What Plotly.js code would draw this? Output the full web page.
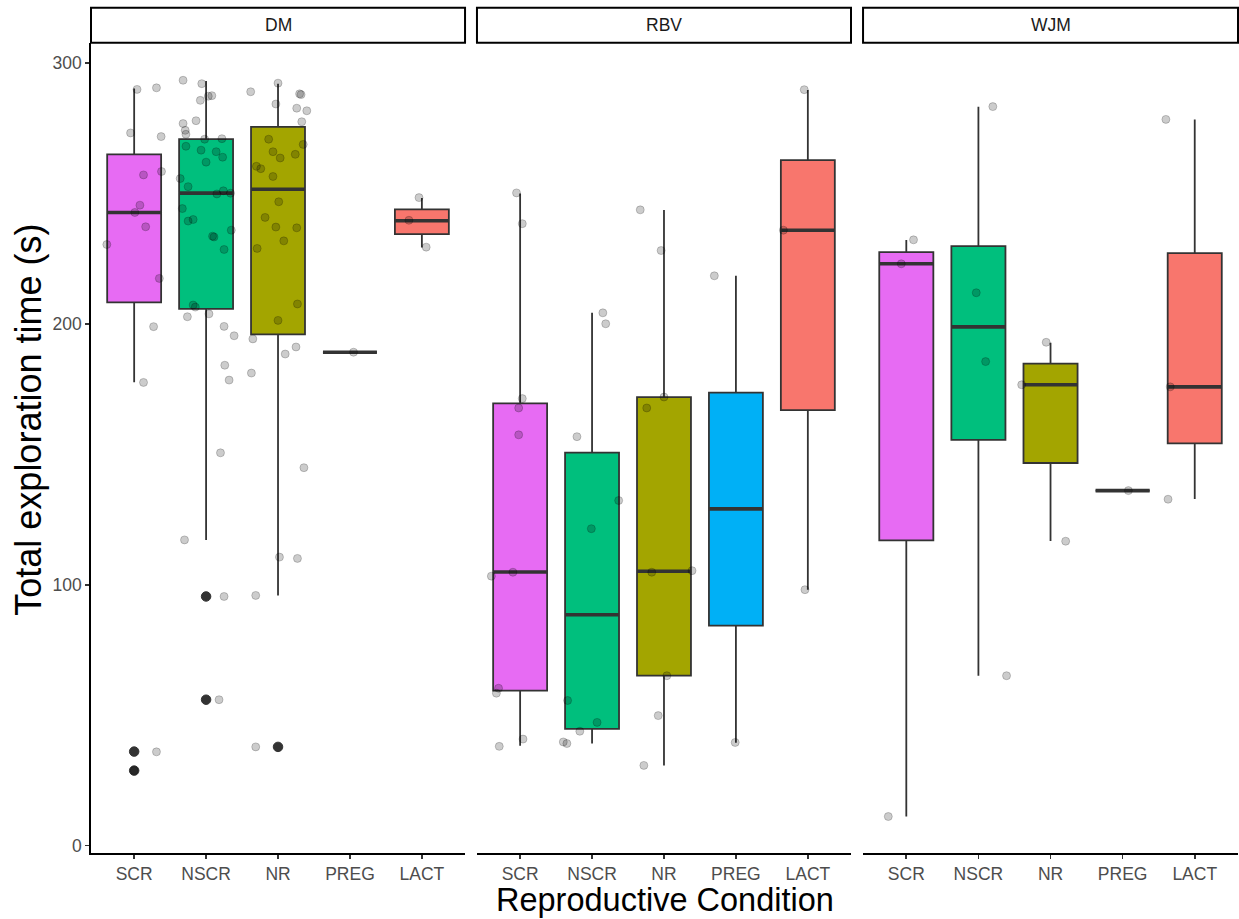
<!DOCTYPE html>
<html>
<head>
<meta charset="utf-8">
<script src="https://cdn.plot.ly/plotly-3.0.1.min.js"></script>
<style>html,body{margin:0;padding:0;background:#fff;}</style>
</head>
<body>
<div id="chart" style="width:1239px;height:919px;"></div>
<script>
// ---------------- DATA ----------------
const facets = ['DM', 'RBV', 'WJM'];
const categories = ['SCR', 'NSCR', 'NR', 'PREG', 'LACT'];
const catPos = [1, 2, 3, 4, 5];

// box statistics per facet (DM, RBV, WJM), per category
const lowerFence = [
  [177.7, 117.2, 95.9, 189.2, 229.4],
  [38.2, 39.1, 30.7, 39.4, 98.1],
  [11.1, 65.1, 116.8, 136.1, 132.9]
];
const q1 = [
  [208.3, 205.8, 196.0, 189.2, 234.5],
  [59.4, 44.7, 65.1, 84.3, 167.0],
  [117.0, 155.6, 146.7, 136.1, 154.2]
];
const medians = [
  [242.8, 250.2, 251.7, 189.2, 239.6],
  [104.9, 88.5, 105.2, 129.1, 236.0],
  [223.1, 198.9, 176.7, 136.1, 175.9]
];
const q3 = [
  [265.1, 270.9, 275.6, 189.2, 244.0],
  [169.6, 150.7, 172.0, 173.7, 262.9],
  [227.6, 229.9, 184.8, 136.1, 227.2]
];
const upperFence = [
  [290.3, 293.2, 292.2, 189.2, 248.3],
  [250.1, 204.3, 243.7, 218.5, 289.8],
  [232.2, 283.3, 192.8, 136.1, 278.5]
];

// outliers (DM only)
const outlierCatDM = [1, 1, 2, 2, 3];
const outlierValDM = [36.0, 28.7, 95.5, 55.9, 37.8];

const valDM = [
  [290.0, 290.6, 273.3, 271.9, 257.2, 258.5, 245.6, 242.8, 237.3, 230.5, 217.5, 199.0, 177.6, 35.9, 28.7],
  [293.5, 292.2, 285.8, 287.4, 287.6, 278.0, 276.9, 274.3, 272.8, 270.9, 271.1, 268.2, 266.7, 266.1, 264.0, 262.1, 255.8, 252.7, 249.9, 251.1,
   250.2, 244.3, 239.5, 240.1, 233.7, 233.4, 236.0, 228.6, 207.3, 206.5, 202.8, 203.9, 199.1, 195.5, 184.2, 178.5, 150.6, 117.2, 95.5, 55.9],
  [292.4, 289.1, 288.3, 288.0, 284.4, 282.8, 281.8, 277.6, 270.9, 268.9, 266.1, 263.7, 265.1, 260.5, 259.6, 256.6, 246.9, 240.9, 237.2, 236.9,
   231.9, 229.0, 207.7, 201.4, 194.3, 191.2, 188.5, 181.2, 144.9, 110.6, 110.1, 95.9, 37.8],
  [189.2],
  [248.5, 239.8, 229.5]
];
const jitDM = [
  [0.04, 0.31, -0.05, 0.375, 0.13, 0.38, 0.08, 0.01, 0.16, -0.38, 0.35, 0.27, 0.13, 0.31, 0.0],
  [-0.32, -0.06, -0.08, 0.03, 0.08, -0.14, -0.32, -0.29, -0.28, -0.02, 0.22, -0.28, -0.07, 0.14, 0.23, 0.0, -0.36, -0.25, 0.15, 0.24,
   0.34, -0.33, -0.25, -0.18, 0.09, 0.11, 0.35, 0.25, -0.18, -0.15, -0.26, 0.04, 0.25, 0.39, 0.26, 0.32, 0.20, -0.30, 0.25, 0.18],
  [0.0, -0.38, 0.30, 0.32, -0.03, 0.26, 0.40, 0.33, -0.13, 0.35, -0.07, 0.03, 0.24, -0.30, -0.24, -0.07, 0.01, -0.18, -0.03, 0.26,
   0.08, -0.29, 0.27, 0.0, -0.35, 0.25, 0.10, -0.37, 0.36, 0.02, 0.27, -0.31, -0.31],
  [0.05],
  [-0.04, -0.18, 0.06]
];
const valRBV = [
  [250.3, 238.5, 171.4, 167.8, 157.5, 104.8, 103.3, 60.3, 58.4, 40.8, 38.0],
  [204.3, 200.1, 156.8, 132.3, 121.5, 55.6, 47.2, 43.8, 39.7, 39.1],
  [243.8, 228.2, 172.0, 167.8, 105.4, 104.8, 65.1, 49.8, 30.7],
  [218.5, 39.5],
  [289.9, 236.0, 98.1]
];
const jitRBV = [
  [-0.05, 0.03, 0.03, -0.02, -0.02, -0.10, -0.40, -0.30, -0.33, 0.04, -0.29],
  [0.15, 0.19, -0.21, 0.37, -0.01, -0.34, 0.07, -0.17, -0.40, -0.35],
  [-0.33, -0.04, 0.0, -0.24, 0.39, -0.17, 0.04, -0.08, -0.28],
  [-0.30, -0.01],
  [-0.05, -0.34, -0.04]
];
const valWJM = [
  [232.3, 223.1, 11.1],
  [283.4, 212.0, 185.6, 65.1],
  [193.0, 176.7, 116.7],
  [136.1],
  [278.5, 175.9, 132.8]
];
const jitWJM = [
  [0.10, -0.07, -0.25],
  [0.20, -0.03, 0.10, 0.39],
  [-0.06, -0.40, 0.21],
  [0.08],
  [-0.40, -0.34, -0.37]
];
const facetVals = [valDM, valRBV, valWJM];
const facetJit = [jitDM, jitRBV, jitWJM];

// ---------------- STYLE ----------------
const boxColors = ['#E76BF3', '#00BF7D', '#A3A500', '#00B0F6', '#F8766D'];
const BOX_W = 0.75;
const domains = [[0, 0.3261], [0.3365, 0.6626], [0.6731, 1]];
const FONT = 'Liberation Sans, Arial, Helvetica, sans-serif';

const traces = [];
facets.forEach((f, fi) => {
  const xa = fi === 0 ? 'x' : 'x' + (fi + 1);
  // boxes
  categories.forEach((c, ci) => {
    traces.push({
      type: 'box', orientation: 'v', xaxis: xa, yaxis: 'y',
      x: [catPos[ci]],
      q1: [q1[fi][ci]], median: [medians[fi][ci]], q3: [q3[fi][ci]],
      lowerfence: [lowerFence[fi][ci]], upperfence: [upperFence[fi][ci]],
      width: BOX_W, whiskerwidth: 0, boxpoints: false,
      fillcolor: boxColors[ci],
      line: { color: '#333333', width: 1.8 },
      hoverinfo: 'skip', showlegend: false
    });
  });
  // thick median lines
  const mx = [], my = [];
  categories.forEach((c, ci) => {
    mx.push(catPos[ci] - BOX_W / 2, catPos[ci] + BOX_W / 2, null);
    my.push(medians[fi][ci], medians[fi][ci], null);
  });
  traces.push({
    type: 'scatter', mode: 'lines', xaxis: xa, yaxis: 'y', x: mx, y: my,
    line: { color: '#333333', width: 3.6 }, hoverinfo: 'skip', showlegend: false
  });
});

// outliers
traces.push({
  type: 'scatter', mode: 'markers', xaxis: 'x', yaxis: 'y',
  x: outlierCatDM, y: outlierValDM,
  marker: { color: '#333333', size: 9.5, line: { color: '#333333', width: 1 } },
  hoverinfo: 'skip', showlegend: false
});

// jittered observations
facets.forEach((f, fi) => {
  const xa = fi === 0 ? 'x' : 'x' + (fi + 1);
  const px = [], py = [];
  facetVals[fi].forEach((vals, ci) => {
    vals.forEach((v, k) => {
      px.push(catPos[ci] + facetJit[fi][ci][k]);
      py.push(v);
    });
  });
  traces.push({
    type: 'scatter', mode: 'markers', xaxis: xa, yaxis: 'y', x: px, y: py,
    marker: { color: 'rgba(0,0,0,0.2)', size: 8, line: { color: 'rgba(0,0,0,0.2)', width: 1 } },
    hoverinfo: 'skip', showlegend: false
  });
});

// ---------------- LAYOUT ----------------
const xAxisBase = {
  range: [0.4, 5.6], anchor: 'y', showgrid: false, zeroline: false,
  showline: true, linecolor: '#000000', linewidth: 1.7,
  ticks: 'outside', ticklen: 4, tickwidth: 1.7, tickcolor: '#333333',
  tickvals: catPos, ticktext: categories,
  tickfont: { family: FONT, size: 17.5, color: '#4D4D4D' }
};
const layout = {
  width: 1239, height: 919, autosize: false,
  margin: { l: 91, r: 1, t: 43, b: 66, pad: 0 },
  paper_bgcolor: '#ffffff', plot_bgcolor: '#ffffff',
  showlegend: false, boxmode: 'overlay',
  font: { family: FONT },
  yaxis: {
    range: [-2.9, 307.8], anchor: 'x', showgrid: false, zeroline: false,
    showline: true, linecolor: '#000000', linewidth: 1.7,
    ticks: 'outside', ticklen: 4, tickwidth: 1.7, tickcolor: '#333333',
    tickvals: [0, 100, 200, 300],
    tickfont: { family: FONT, size: 17.5, color: '#4D4D4D' }
  },
  shapes: [], annotations: []
};
facets.forEach((f, fi) => {
  const key = fi === 0 ? 'xaxis' : 'xaxis' + (fi + 1);
  layout[key] = Object.assign({}, xAxisBase, { domain: domains[fi] });
  layout.shapes.push({
    type: 'rect', xref: 'paper', yref: 'paper',
    x0: domains[fi][0], x1: domains[fi][1], y0: 1.0004, y1: 1.0436,
    line: { color: '#000000', width: 2 }, fillcolor: '#ffffff'
  });
  layout.annotations.push({
    xref: 'paper', yref: 'paper', x: (domains[fi][0] + domains[fi][1]) / 2, y: 1.022,
    xanchor: 'center', yanchor: 'middle', showarrow: false, text: f,
    font: { family: FONT, size: 17.5, color: '#1A1A1A' }
  });
});
layout.annotations.push({
  xref: 'paper', yref: 'paper', x: 0.5, y: -0.058, xanchor: 'center', yanchor: 'middle',
  showarrow: false, text: 'Reproductive Condition',
  font: { family: FONT, size: 32.5, color: '#000000' }
});
layout.annotations.push({
  xref: 'paper', yref: 'paper', x: -0.054, y: 0.535, xanchor: 'center', yanchor: 'middle',
  showarrow: false, textangle: -90, text: 'Total exploration time (s)',
  font: { family: FONT, size: 36, color: '#000000' }
});

Plotly.newPlot('chart', traces, layout, { displayModeBar: false, staticPlot: true });
</script>
</body>
</html>
